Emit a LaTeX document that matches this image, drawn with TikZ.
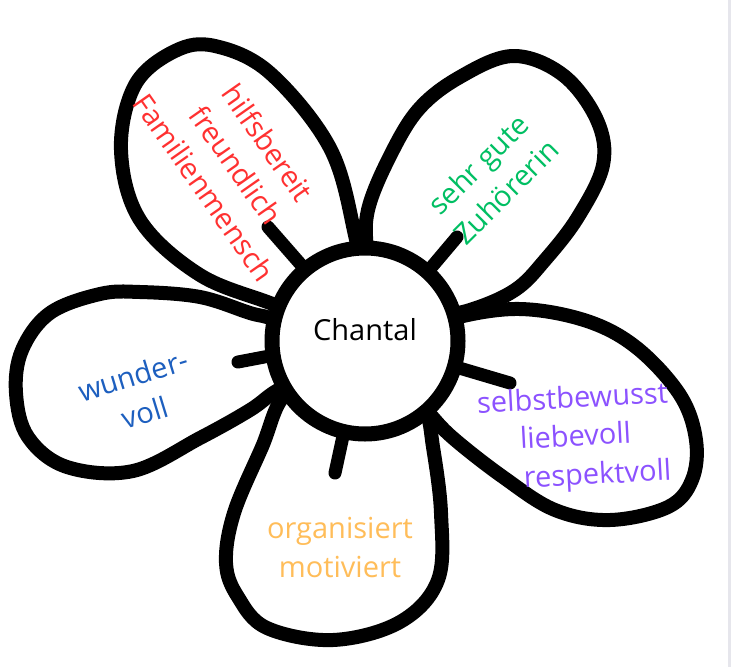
\documentclass[tikz,border=0pt]{standalone}
\usepackage{fontspec}
\setmainfont{Open Sans}
\usepackage{tikz}
\usetikzlibrary{positioning}
\definecolor{redtxt}{HTML}{FF3131}
\definecolor{greentxt}{HTML}{00BF63}
\definecolor{bluetxt}{HTML}{1D5FBF}
\definecolor{purpletxt}{HTML}{8C52FF}
\definecolor{orangetxt}{HTML}{FFBD59}
\definecolor{sidebar}{HTML}{E6E6EC}

\begin{document}
\begin{tikzpicture}[x=1pt, y=-1pt,
  petal/.style={draw, line width=14pt, fill=white, line join=round},
  hub/.style={circle, draw, line width=15pt, fill=white, minimum size=186pt, inner sep=0pt},
  stem/.style={line width=13pt, line cap=round},
  word/.style={align=center, font=\fontsize{29}{39}\selectfont, inner sep=0pt}]
  \useasboundingbox (0,0) rectangle (731,667);
  \fill[sidebar] (728,0) rectangle (731,667);
  \draw[petal] plot[smooth, tension=0.6] coordinates {(330,330) (275,305) (200,275) (140,220) (121,150) (135,85) (175,51) (215,46) (270,73) (330,148) (355,235) (365,300)} -- cycle;
  \draw[petal] plot[smooth, tension=0.6] coordinates {(375,300) (367,250) (368,210) (388,160) (418,110) (460,77) (513,56) (563,75) (597,120) (603,165) (578,217) (545,260) (515,290) (470,310) (420,320)} -- cycle;
  \draw[petal] plot[smooth, tension=0.6] coordinates {(420,335) (455,318) (520,309) (587,321) (637,348) (680,395) (696,440) (692,480) (668,507) (610,520) (555,510) (503,477) (453,438) (428,412) (400,380)} -- cycle;
  \draw[petal] plot[smooth, tension=0.6] coordinates {(330,380) (285,395) (262,447) (234,513) (226,563) (238,597) (267,628) (333,640) (400,622) (438,580) (441,513) (433,447) (425,410) (400,390)} -- cycle;
  \draw[petal] plot[smooth, tension=0.6] coordinates {(320,335) (270,318) (250,313) (200,297) (140,292) (100,294) (50,313) (22,350) (16,393) (28,437) (67,467) (133,471) (200,438) (250,410) (278,390) (320,370)} -- cycle;
  \node[hub, label={[font=\fontsize{29}{34}\selectfont, yshift=11pt]center:Chantal}] (chantal) at (365,341) {};
  \coordinate (redstem) at (268,227);
  \coordinate (greenstem) at (457,237);
  \coordinate (bluestem) at (238,362);
  \coordinate (purplestem) at (510,383);
  \coordinate (orangestem) at (335,473);
  \draw[stem] (chantal.130) -- (redstem);
  \draw[stem] (chantal.48) -- (greenstem);
  \draw[stem] (chantal.189) -- (bluestem);
  \draw[stem] (chantal.-16) -- (purplestem);
  \draw[stem] (chantal.257) -- (orangestem);
  \node[word, text=redtxt, rotate=-55] (redwords) at (236,165) {hilfsbereit\\freundlich\\Familienmensch};
  \node[word, text=greentxt, rotate=45] (greenwords) at (492,178) {sehr gute\\Zuhörerin};
  \node[word, text=bluetxt, rotate=17] (bluewords) at (139,394) {wunder-\\voll};
  \node[word, text=purpletxt, rotate=3, anchor=base] (selbst) at (573,408) {selbstbewusst};
  \node[word, text=purpletxt, rotate=3, anchor=base] (liebe) at (576,446) {liebevoll};
  \node[word, text=purpletxt, rotate=3, anchor=base] (respekt) at (598,484) {respektvoll};
  \node[word, text=orangetxt] (orangewords) at (340,547) {organisiert\\motiviert};
\end{tikzpicture}
\end{document}
